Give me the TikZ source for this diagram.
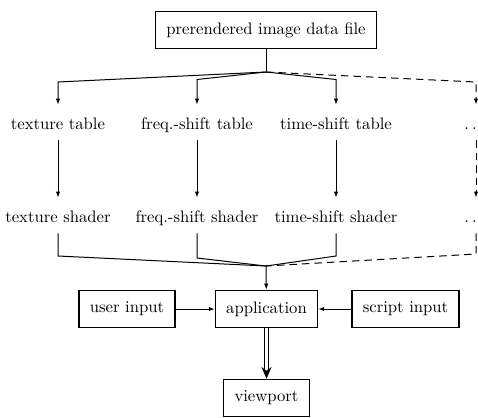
\documentclass[tikz,border=0pt]{standalone}
\usepackage{tikz}
\usetikzlibrary{positioning,arrows.meta,calc}
\tikzset{
  block/.style={draw,line width=0.7pt,inner xsep=6.5pt,minimum height=22.5pt},
  lbl/.style={inner xsep=1pt,inner ysep=6.3pt,text height=8.4pt,text depth=0pt},
  ln/.style={line width=0.6pt},
  arr/.style={ln,-{Latex[length=3.6pt,width=2.6pt]}},
  dsh/.style={ln,dash pattern=on 4.5pt off 3pt},
  darr/.style={dsh,-{Latex[length=3.6pt,width=2.6pt]}},
}
\newcommand{\twodots}{{.}\kern1.8pt{.}}
\begin{document}
\begin{tikzpicture}[x=0.6pt,y=-0.6pt]
\useasboundingbox (0,0) rectangle (478,417);

\node[block] (src) at (266,30) {prerendered image data file};
\coordinate (j1) at (266,72);

\node[lbl] (tt) at (58,122.5) {texture table};
\node[lbl] (ft) at (197,122.5) {freq.-shift table};
\node[lbl] (st) at (336,122.5) {time-shift table};
\node[lbl] (dt) at (470.5,122.5) {\twodots};

\node[lbl] (ts) at (58,215.5) {texture shader};
\node[lbl] (fs) at (197,215.5) {freq.-shift shader};
\node[lbl] (ss) at (336,215.5) {time-shift shader};
\node[lbl] (ds) at (470.5,215.5) {\twodots};

\coordinate (c1) at (58,82);
\coordinate (c2) at (197,79.5);
\coordinate (c3) at (336,79.5);
\coordinate (c4) at (476,82);
\coordinate (d1) at (58,256);
\coordinate (d2) at (197,258);
\coordinate (d3) at (336,256);
\coordinate (d4) at (476,254);
\coordinate (j2) at (266,266);

\node[block] (app) at (266.5,309) {application};
\node[block] (ui) at (127,309) {user input};
\node[block] (si) at (405.5,309) {script input};
\node[block] (vp) at (266.5,398) {viewport};

\draw[ln] (src) -- (j1);
\draw[arr] (j1) -- (c1) -- (tt);
\draw[arr] (j1) -- (c2) -- (ft);
\draw[arr] (j1) -- (c3) -- (st);
\draw[darr] (j1) -- (c4) -- (c4 |- dt.north);

\draw[arr] (tt) -- (ts);
\draw[arr] (ft) -- (fs);
\draw[arr] (st) -- (ss);
\draw[darr] (c4 |- dt.south) -- (c4 |- ds.north);

\draw[ln] (ts) -- (d1) -- (j2);
\draw[ln] (fs) -- (d2) -- (j2);
\draw[ln] (ss) -- (d3) -- (j2);
\draw[dsh] (c4 |- ds.south) -- (d4) -- (j2);

\draw[arr] (j2) -- (app);
\draw[arr] (ui) -- (app);
\draw[arr] (si) -- (app);
\draw[ln,double,double distance=1.3pt,-{Stealth[length=7pt,width=6pt]}] (app) -- (vp);

\end{tikzpicture}
\end{document}
